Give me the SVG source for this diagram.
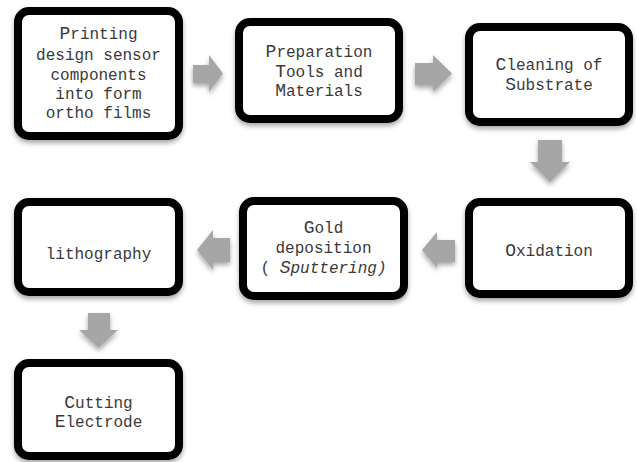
<svg xmlns="http://www.w3.org/2000/svg" width="637" height="462" viewBox="0 0 637 462">
<defs>
<filter id="sh" x="-20%" y="-20%" width="140%" height="150%">
<feDropShadow dx="0" dy="3" stdDeviation="2.5" flood-color="#000" flood-opacity="0.35"/>
</filter>
<style>
.box{fill:#fff;stroke:#000;stroke-width:8;filter:url(#sh)}
.arr{fill:#a6a6a6;filter:url(#sh)}
text{font-family:"Liberation Mono","Courier New",monospace;font-size:16px;fill:#3a3a3a;text-anchor:middle}
.cap{font-size:18px}
</style>
</defs>
<rect width="637" height="462" fill="#fff"/>
<g id="connectors">
<polygon class="arr" points="193,65 209,65 209,55 223,73.5 209,92 209,83 193,83"/>
<polygon class="arr" points="415,63 433,63 433,55 452,73.5 433,92 433,85 415,85"/>
<polygon class="arr" points="538,140 562,140 562,162 570,162 550,182 530,162 538,162"/>
<polygon class="arr" points="455,240 437,240 437,232 422,250 437,268 437,262 455,262"/>
<polygon class="arr" points="230,238 213,238 213,230 197,250 213,270 213,262 230,262"/>
<polygon class="arr" points="88,313 110,313 110,330 118,330 98.5,348 79,330 88,330"/>
</g>
<g id="n1">
<rect class="box" x="18" y="11" width="161" height="125" rx="11"/>
<text x="98.5" y="39"><tspan class="cap">P</tspan>rinting</text>
<text x="98.5" y="60">design sensor</text>
<text x="98.5" y="80">components</text>
<text x="98.5" y="99">into form</text>
<text x="98.5" y="118">ortho films</text>
</g>
<g id="n2">
<rect class="box" x="239" y="22" width="160" height="97" rx="11"/>
<text x="319" y="57"><tspan class="cap">P</tspan>reparation</text>
<text x="319" y="77"><tspan class="cap">T</tspan>ools and</text>
<text x="319" y="96"><tspan class="cap">M</tspan>aterials</text>
</g>
<g id="n3">
<rect class="box" x="469" y="27" width="160" height="95" rx="11"/>
<text x="549" y="70"><tspan class="cap">C</tspan>leaning of</text>
<text x="549" y="90"><tspan class="cap">S</tspan>ubstrate</text>
</g>
<g id="n4">
<rect class="box" x="469" y="202" width="160" height="92" rx="11"/>
<text x="549" y="256"><tspan class="cap">O</tspan>xidation</text>
</g>
<g id="n5">
<rect class="box" x="243" y="201" width="161" height="95" rx="11"/>
<text x="323.5" y="233"><tspan class="cap">G</tspan>old</text>
<text x="323.5" y="253">deposition</text>
<text x="323.5" y="273">( <tspan font-style="italic"><tspan class="cap">S</tspan>puttering)</tspan></text>
</g>
<g id="n6">
<rect class="box" x="18" y="202" width="161" height="90" rx="11"/>
<text x="98.5" y="259">lithography</text>
</g>
<g id="n7">
<rect class="box" x="18" y="363" width="161" height="93" rx="11"/>
<text x="98.5" y="408"><tspan class="cap">C</tspan>utting</text>
<text x="98.5" y="427"><tspan class="cap">E</tspan>lectrode</text>
</g>
</svg>
